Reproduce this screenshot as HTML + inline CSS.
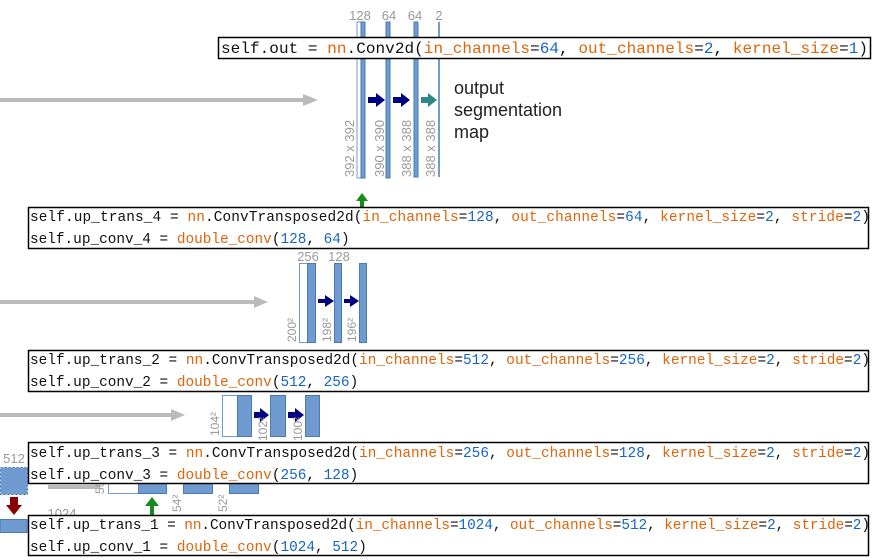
<!DOCTYPE html>
<html><head><meta charset="utf-8"><style>
html,body{margin:0;padding:0;background:#fff;}
svg{display:block;}
.c{font-family:"Liberation Mono",monospace;fill:#111;}
.o{fill:#e0650a;}
.b{fill:#1565c8;}
.lab{font-family:"Liberation Sans",sans-serif;fill:#999;}
</style></head><body>
<svg width="877" height="560" viewBox="0 0 877 560" xmlns="http://www.w3.org/2000/svg">
<defs>
<marker id="ga" markerWidth="4" markerHeight="4" refX="2" refY="2" orient="auto" markerUnits="strokeWidth"><path d="M0,0 L4,2 L0,4z" fill="#bbb"/></marker>
</defs>
<!-- gray arrows -->
<line x1="0" y1="100" x2="305" y2="100" stroke="#bbb" stroke-width="4"/><path d="M303,94 L318,100 L303,106z" fill="#bbb"/>
<line x1="0" y1="302" x2="256" y2="302" stroke="#bbb" stroke-width="4"/><path d="M254,296 L268,302 L254,308z" fill="#bbb"/>
<line x1="0" y1="415" x2="173" y2="415" stroke="#bbb" stroke-width="4"/><path d="M171,409 L185,415 L171,421z" fill="#bbb"/>
<line x1="48" y1="487" x2="100" y2="487" stroke="#bbb" stroke-width="4"/>

<!-- top layers -->
<text class="lab" x="360" y="20" font-size="13" text-anchor="middle">128</text>
<text class="lab" x="389" y="20" font-size="13" text-anchor="middle">64</text>
<text class="lab" x="415" y="20" font-size="13" text-anchor="middle">64</text>
<text class="lab" x="439" y="20" font-size="13" text-anchor="middle">2</text>
<rect x="357" y="22" width="4" height="156" fill="#fff" stroke="#6f9bd0"/>
<rect x="361" y="22" width="4" height="156" fill="#6f9bd0" stroke="#4a7ab5"/>
<rect x="386" y="22" width="4" height="156" fill="#6f9bd0" stroke="#4a7ab5"/>
<rect x="414" y="22" width="4" height="155" fill="#6f9bd0" stroke="#4a7ab5"/>
<line x1="439" y1="22" x2="439" y2="177" stroke="#4a7ab5" stroke-width="1.5"/>
<path d="M368,97 h8 v-4 l9,7 l-9,7 v-4 h-8z" fill="#000080"/>
<path d="M393,97 h8 v-4 l9,7 l-9,7 v-4 h-8z" fill="#000080"/>
<path d="M421,97 h7 v-4 l9,7 l-9,7 v-4 h-7z" fill="#2a8a8a"/>
<text class="lab" font-size="13" transform="translate(354,177) rotate(-90)">392 x 392</text>
<text class="lab" font-size="13" transform="translate(384,177) rotate(-90)">390 x 390</text>
<text class="lab" font-size="13" transform="translate(411,177) rotate(-90)">388 x 388</text>
<text class="lab" font-size="13" transform="translate(435,177) rotate(-90)">388 x 388</text>
<text font-family="Liberation Sans,sans-serif" font-size="18" fill="#222" x="454" y="94">output</text>
<text font-family="Liberation Sans,sans-serif" font-size="18" fill="#222" x="454" y="116">segmentation</text>
<text font-family="Liberation Sans,sans-serif" font-size="18" fill="#222" x="454" y="138">map</text>
<path d="M362,193 l-6,8 h4 v6 h4 v-6 h4z" fill="#1a8a1a"/>

<!-- mid layers -->
<text class="lab" x="308" y="261" font-size="13" text-anchor="middle">256</text>
<text class="lab" x="339" y="261" font-size="13" text-anchor="middle">128</text>
<rect x="299.5" y="263.5" width="8" height="79" fill="#fff" stroke="#6f9bd0"/>
<rect x="307.5" y="263.5" width="8" height="79" fill="#6f9bd0" stroke="#4a7ab5"/>
<rect x="334.5" y="263.5" width="7" height="79" fill="#6f9bd0" stroke="#4a7ab5"/>
<rect x="359.5" y="263.5" width="7" height="79" fill="#6f9bd0" stroke="#4a7ab5"/>
<path d="M318,299 h7 v-4 l9,6 l-9,6 v-4 h-7z" fill="#000080"/>
<path d="M344,299 h6 v-4 l9,6 l-9,6 v-4 h-6z" fill="#000080"/>
<text class="lab" font-size="12" transform="translate(296,342) rotate(-90)">200²</text>
<text class="lab" font-size="12" transform="translate(331,342) rotate(-90)">198²</text>
<text class="lab" font-size="12" transform="translate(356,342) rotate(-90)">196²</text>

<!-- third layers -->
<rect x="222.5" y="395.5" width="15" height="41" fill="#fff" stroke="#6f9bd0"/>
<rect x="237.5" y="395.5" width="14" height="41" fill="#6f9bd0" stroke="#4a7ab5"/>
<rect x="270.5" y="395.5" width="15" height="41" fill="#6f9bd0" stroke="#4a7ab5"/>
<rect x="305.5" y="395.5" width="14" height="41" fill="#6f9bd0" stroke="#4a7ab5"/>
<path d="M254,412 h6 v-4 l9,7 l-9,7 v-4 h-6z" fill="#000080"/>
<path d="M288,412 h7 v-4 l9,7 l-9,7 v-4 h-7z" fill="#000080"/>
<text class="lab" font-size="12" transform="translate(219,436) rotate(-90)">104²</text>
<text class="lab" font-size="12" transform="translate(267,441) rotate(-90)">102²</text>
<text class="lab" font-size="12" transform="translate(302,441) rotate(-90)">100²</text>

<!-- bottom layers -->
<text class="lab" x="14" y="463" font-size="13" text-anchor="middle">512</text>
<rect x="0.5" y="467.5" width="27" height="27" fill="#6f9bd0" stroke="#4a7ab5" stroke-dasharray="2,2"/>
<path d="M10,497 h8 v8 h4 l-8,10 l-8,-10 h4z" fill="#8b0000"/>
<text class="lab" x="62" y="518" font-size="13" text-anchor="middle">1024</text>
<rect x="0" y="519.5" width="27" height="13" fill="#6f9bd0" stroke="#4a7ab5"/>
<rect x="108.5" y="483" width="30" height="10.5" fill="#fff" stroke="#6f9bd0"/>
<rect x="138.5" y="483" width="28" height="10.5" fill="#6f9bd0" stroke="#4a7ab5"/>
<rect x="183.5" y="483" width="29" height="10.5" fill="#6f9bd0" stroke="#4a7ab5"/>
<rect x="229.5" y="483" width="29" height="10.5" fill="#6f9bd0" stroke="#4a7ab5"/>
<text class="lab" font-size="12" transform="translate(104,494) rotate(-90)">56</text>
<text class="lab" font-size="12" transform="translate(181,512) rotate(-90)">54²</text>
<text class="lab" font-size="12" transform="translate(227,512) rotate(-90)">52²</text>
<path d="M152,497 l-7,9 h5 v9 h4 v-9 h5z" fill="#1a8a1a"/>

<!-- code boxes -->
<rect x="218.5" y="37.5" width="652" height="21" fill="#fff" stroke="#000" stroke-width="1.5"/>
<text class="c" x="221" y="53" font-size="16" textLength="647" lengthAdjust="spacing">self.out = <tspan class="o">nn</tspan>.Conv2d(<tspan class="o">in_channels</tspan>=<tspan class="b">64</tspan>, <tspan class="o">out_channels</tspan>=<tspan class="b">2</tspan>, <tspan class="o">kernel_size</tspan>=<tspan class="b">1</tspan>)</text>

<rect x="28.5" y="207.5" width="840" height="41" fill="#fff" stroke="#000" stroke-width="1.5"/>
<text class="c" x="30" y="221" font-size="14.4" textLength="840" lengthAdjust="spacing">self.up_trans_4 = <tspan class="o">nn</tspan>.ConvTransposed2d(<tspan class="o">in_channels</tspan>=<tspan class="b">128</tspan>, <tspan class="o">out_channels</tspan>=<tspan class="b">64</tspan>, <tspan class="o">kernel_size</tspan>=<tspan class="b">2</tspan>, <tspan class="o">stride</tspan>=<tspan class="b">2</tspan>)</text>
<text class="c" x="30" y="243" font-size="14.4">self.up_conv_4 = <tspan class="o">double_conv</tspan>(<tspan class="b">128</tspan>, <tspan class="b">64</tspan>)</text>

<rect x="28.5" y="350.5" width="840" height="41" fill="#fff" stroke="#000" stroke-width="1.5"/>
<text class="c" x="30" y="364" font-size="14.4" textLength="840" lengthAdjust="spacing">self.up_trans_2 = <tspan class="o">nn</tspan>.ConvTransposed2d(<tspan class="o">in_channels</tspan>=<tspan class="b">512</tspan>, <tspan class="o">out_channels</tspan>=<tspan class="b">256</tspan>, <tspan class="o">kernel_size</tspan>=<tspan class="b">2</tspan>, <tspan class="o">stride</tspan>=<tspan class="b">2</tspan>)</text>
<text class="c" x="30" y="386" font-size="14.4">self.up_conv_2 = <tspan class="o">double_conv</tspan>(<tspan class="b">512</tspan>, <tspan class="b">256</tspan>)</text>

<rect x="28.5" y="442.5" width="840" height="41" fill="#fff" stroke="#000" stroke-width="1.5"/>
<text class="c" x="30" y="457" font-size="14.4" textLength="840" lengthAdjust="spacing">self.up_trans_3 = <tspan class="o">nn</tspan>.ConvTransposed2d(<tspan class="o">in_channels</tspan>=<tspan class="b">256</tspan>, <tspan class="o">out_channels</tspan>=<tspan class="b">128</tspan>, <tspan class="o">kernel_size</tspan>=<tspan class="b">2</tspan>, <tspan class="o">stride</tspan>=<tspan class="b">2</tspan>)</text>
<text class="c" x="30" y="479" font-size="14.4">self.up_conv_3 = <tspan class="o">double_conv</tspan>(<tspan class="b">256</tspan>, <tspan class="b">128</tspan>)</text>

<rect x="28.5" y="515.5" width="840" height="40" fill="#fff" stroke="#000" stroke-width="1.5"/>
<text class="c" x="30" y="529" font-size="14.4" textLength="840" lengthAdjust="spacing">self.up_trans_1 = <tspan class="o">nn</tspan>.ConvTransposed2d(<tspan class="o">in_channels</tspan>=<tspan class="b">1024</tspan>, <tspan class="o">out_channels</tspan>=<tspan class="b">512</tspan>, <tspan class="o">kernel_size</tspan>=<tspan class="b">2</tspan>, <tspan class="o">stride</tspan>=<tspan class="b">2</tspan>)</text>
<text class="c" x="30" y="551" font-size="14.4">self.up_conv_1 = <tspan class="o">double_conv</tspan>(<tspan class="b">1024</tspan>, <tspan class="b">512</tspan>)</text>
</svg>
</body></html>
